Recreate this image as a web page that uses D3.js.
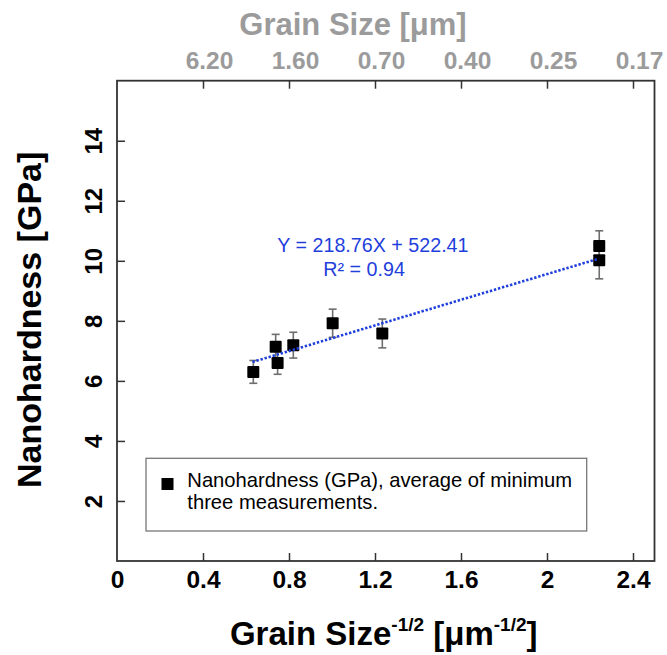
<!DOCTYPE html>
<html>
<head>
<meta charset="utf-8">
<script src="https://cdn.jsdelivr.net/npm/d3@7/dist/d3.min.js"></script>
<style>
  html, body { margin: 0; padding: 0; background: #fff; }
  svg { display: block; }
  text { font-family: "Liberation Sans", Arial, Helvetica, sans-serif; }
</style>
</head>
<body>
<svg id="chart" width="667" height="655"></svg>
<script>
// ---- data ----
const grainInvSqrt = [0.634, 0.738, 0.747, 0.820, 1.003, 1.234, 2.243, 2.243];
const hardness     = [6.30, 7.14, 6.60, 7.19, 7.92, 7.58, 10.49, 10.02];
const hardnessErr  = [0.38, 0.41, 0.38, 0.43, 0.47, 0.48, 0.51, 0.62];
const trendX = [0.63, 2.24];
const trendY = [6.63, 10.07];
const bottomTicks = [0, 0.4, 0.8, 1.2, 1.6, 2.0, 2.4];
const topTicks = [0.4, 0.8, 1.2, 1.6, 2.0, 2.4];
const topTickLabels = ["6.20", "1.60", "0.70", "0.40", "0.25", "0.17"];
const leftTicks = [2, 4, 6, 8, 10, 12, 14];
const equationLines = ["Y = 218.76X + 522.41", "R² = 0.94"];
const legendLines = ["Nanohardness (GPa), average of minimum", "three measurements."];

const svg = d3.select("#chart");
const L = 117, R = 654.5, T = 80.7, B = 561;
const x = d3.scaleLinear().domain([0, 2.5]).range([L, R]);
const y = d3.scaleLinear().domain([0, 16]).range([B, T]);

const frameColor = "#333";
const gray = "#9b9b9b";
const blue = "#1f3fdc";

// frame
svg.append("rect").attr("x", L).attr("y", T).attr("width", R - L).attr("height", B - T)
  .attr("fill", "none").attr("stroke", frameColor).attr("stroke-width", 1.8);

// bottom axis
const gB = svg.append("g").attr("transform", `translate(0,${B})`)
  .call(d3.axisBottom(x).tickValues(bottomTicks).tickSizeInner(-8).tickSizeOuter(0).tickPadding(10)
        .tickFormat(d3.format("")));
gB.select(".domain").remove();
gB.selectAll(".tick line").attr("stroke", frameColor).attr("stroke-width", 1.5)
  .filter(d => d === 0).remove();
gB.selectAll(".tick text").attr("font-size", 24.5).attr("font-weight", "bold").attr("fill", "#000")
  .attr("font-family", "Liberation Sans, Arial, sans-serif");

// top axis
const gT = svg.append("g").attr("transform", `translate(0,${T})`)
  .call(d3.axisTop(x).tickValues(topTicks).tickSizeInner(-8).tickSizeOuter(0).tickPadding(12)
        .tickFormat((d, i) => topTickLabels[i]));
gT.select(".domain").remove();
gT.selectAll(".tick line").attr("stroke", frameColor).attr("stroke-width", 1.5);
gT.selectAll(".tick text").attr("font-size", 24.5).attr("font-weight", "bold").attr("fill", gray)
  .attr("font-family", "Liberation Sans, Arial, sans-serif").attr("dx", 6);

// left axis
const gL = svg.append("g").attr("transform", `translate(${L},0)`)
  .call(d3.axisLeft(y).tickValues(leftTicks).tickSizeInner(-8).tickSizeOuter(0).tickFormat(d3.format("")));
gL.select(".domain").remove();
gL.selectAll(".tick line").attr("stroke", frameColor).attr("stroke-width", 1.5);
gL.selectAll(".tick text").attr("font-size", 24).attr("font-weight", "bold").attr("fill", "#000")
  .attr("font-family", "Liberation Sans, Arial, sans-serif")
  .attr("x", null).attr("dy", null).attr("text-anchor", "middle")
  .attr("transform", "translate(-15,0) rotate(-90)");

// axis titles
svg.append("text").attr("transform", `translate(41,${(T + B) / 2 - 1}) rotate(-90)`)
  .attr("text-anchor", "middle").attr("font-size", 34).attr("font-weight", "bold").attr("fill", "#000")
  .text("Nanohardness [GPa]");

svg.append("text").attr("x", 353).attr("y", 35).attr("text-anchor", "middle")
  .attr("font-size", 31).attr("font-weight", "bold").attr("fill", gray)
  .text("Grain Size [μm]");

const bt = svg.append("text").attr("x", (L + R) / 2 - 2).attr("y", 645).attr("text-anchor", "middle")
  .attr("font-size", 33).attr("font-weight", "bold").attr("fill", "#000");
bt.append("tspan").text("Grain Size");
bt.append("tspan").attr("font-size", 19).attr("dy", -14).text("-1/2");
bt.append("tspan").attr("dy", 14).text(" [μm");
bt.append("tspan").attr("font-size", 19).attr("dy", -14).text("-1/2");
bt.append("tspan").attr("dy", 14).text("]");

// error bars
const cap = 4;
const eb = svg.append("g").attr("stroke", "#6e6e6e").attr("stroke-width", 1.6);
grainInvSqrt.forEach((gx, i) => {
  const cx = x(gx), y1 = y(hardness[i] + hardnessErr[i]), y2 = y(hardness[i] - hardnessErr[i]);
  eb.append("line").attr("x1", cx).attr("x2", cx).attr("y1", y1).attr("y2", y2);
  eb.append("line").attr("x1", cx - cap).attr("x2", cx + cap).attr("y1", y1).attr("y2", y1);
  eb.append("line").attr("x1", cx - cap).attr("x2", cx + cap).attr("y1", y2).attr("y2", y2);
});

// markers
const sz = 12;
svg.append("g").selectAll("rect").data(grainInvSqrt).join("rect")
  .attr("x", d => x(d) - sz / 2).attr("y", (d, i) => y(hardness[i]) - sz / 2)
  .attr("width", sz).attr("height", sz).attr("fill", "#000").attr("rx", 1);

// trend line
svg.append("path")
  .datum(trendX.map((d, i) => [d, trendY[i]]))
  .attr("d", d3.line().x(d => x(d[0])).y(d => y(d[1])))
  .attr("fill", "none").attr("stroke", blue).attr("stroke-width", 2.6)
  .attr("stroke-dasharray", "2.4 1.8");

// equation
svg.append("text").attr("x", 277.3).attr("y", 251.7).attr("font-size", 19.7).attr("fill", blue)
  .text(equationLines[0]);
svg.append("text").attr("x", 323.3).attr("y", 275.7).attr("font-size", 19.7).attr("fill", blue)
  .text(equationLines[1]);

// legend
svg.append("rect").attr("x", 146).attr("y", 458.3).attr("width", 586.7 - 146).attr("height", 531 - 458.3)
  .attr("fill", "#fff").attr("stroke", "#777").attr("stroke-width", 1.3);
svg.append("rect").attr("x", 161.5).attr("y", 478).attr("width", 12).attr("height", 12).attr("fill", "#000");
legendLines.forEach((t, i) => {
  svg.append("text").attr("x", 187.3).attr("y", 486.7 + i * 22.6).attr("font-size", 20.2).attr("fill", "#000").text(t);
});
</script>
</body>
</html>
